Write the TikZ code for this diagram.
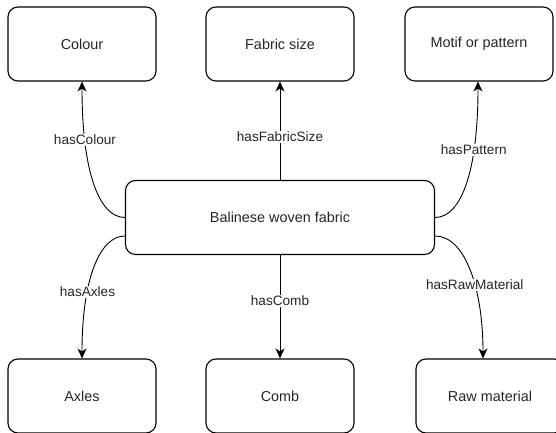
\documentclass[tikz,border=0pt]{standalone}
\usepackage{fontspec}
\setmainfont{Liberation Sans}
\usetikzlibrary{arrows.meta}

\begin{document}
\begin{tikzpicture}[x=1pt, y=1pt,
  every node/.style={font=\fontsize{14.4}{16}\selectfont, text=black!85},
  box/.style={draw, line width=1.1pt, rounded corners=10pt, minimum width=148pt, minimum height=74pt, inner sep=0pt},
  lbl/.style={fill=white, inner sep=1pt, font=\fontsize{13.6}{16}\selectfont},
  link/.style={line width=0.9pt, -{Stealth[length=10pt, width=9pt, inset=3pt]}}]
  % Balinese woven fabric and its six properties.
  \clip (0,0) rectangle (556,433);
  \node[box, minimum width=309pt] (woven) at (280,215.5) {Balinese woven fabric};
  \foreach \nm/\x/\txt in {colour/82/Colour, size/280/Fabric size, motif/479/Motif or pattern} {
    \node[box] (\nm) at (\x,389) {\txt};
  }
  \foreach \nm/\x/\txt in {axles/82/Axles, comb/280/Comb, raw/490/Raw material} {
    \node[box] (\nm) at (\x,37) {\txt};
  }
  % upward links
  \draw[link] (woven.west) to[out=180, in=-90, out distance=25pt, in distance=93pt]
    node[lbl, pos=0.76] {hasColour} (colour.south);
  \draw[link] (woven.north) -- node[lbl, pos=0.44] {hasFabricSize} (size.south);
  \draw[link] (woven.east) to[out=0, in=-90, out distance=25pt, in distance=93pt]
    node[lbl, pos=0.71] {hasPattern} ([xshift=-1pt]motif.south);
  % downward links
  \draw[link] ([yshift=-18.5pt]woven.west) to[out=180, in=90, out distance=25pt, in distance=80pt]
    node[lbl, pos=0.67] {hasAxles} (axles.north);
  \draw[link] (woven.south) -- node[lbl, pos=0.445] {hasComb} (comb.north);
  \draw[link] ([yshift=-18.5pt]woven.east) to[out=0, in=90, out distance=30pt, in distance=70pt]
    node[lbl, pos=0.6] {hasRawMaterial} ([xshift=-7pt]raw.north);
\end{tikzpicture}
\end{document}
